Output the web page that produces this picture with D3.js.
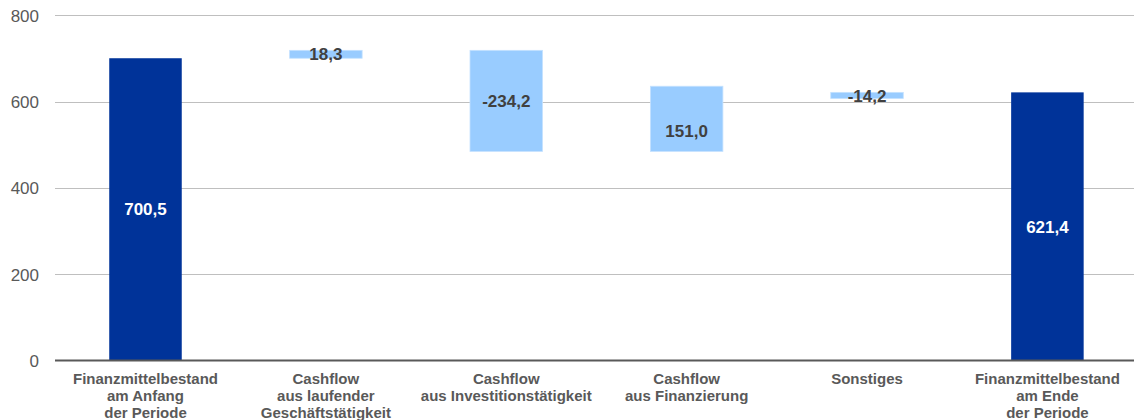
<!DOCTYPE html>
<html>
<head>
<meta charset="utf-8">
<script src="https://cdn.jsdelivr.net/npm/d3@7"></script>
<style>
  html, body { margin: 0; padding: 0; background: #fff; }
  svg { display: block; font-family: "Liberation Sans", Arial, sans-serif; }
</style>
</head>
<body>
<svg id="chart" width="1134" height="420"></svg>
<script>
// Kapitalflussrechnung: Überleitung des Finanzmittelbestands
const categories = [
  ["Finanzmittelbestand", "am Anfang", "der Periode"],
  ["Cashflow", "aus laufender", "Geschäftstätigkeit"],
  ["Cashflow", "aus Investitionstätigkeit"],
  ["Cashflow", "aus Finanzierung"],
  ["Sonstiges"],
  ["Finanzmittelbestand", "am Ende", "der Periode"]
];
// "total": stands on zero; "delta": floats on the running sum;
// "closing": hangs from the closing balance that follows it
const kinds = ["total", "delta", "delta", "delta", "closing", "total"];
const values = [700.5, 18.3, -234.2, 151.0, -14.2, 621.4];
const yTicks = [0, 200, 400, 600, 800];

let running = 0;
const bars = values.map((v, i) => {
  let lo, hi;
  if (kinds[i] === "total") {
    lo = 0; hi = v; running = v;
  } else if (kinds[i] === "closing") {
    const endIdx = kinds.indexOf("total", i);
    hi = values[endIdx]; lo = hi - Math.abs(v);
    running += v;
  } else {
    const next = running + v;
    lo = Math.min(running, next); hi = Math.max(running, next);
    running = next;
  }
  return { i, v, lo, hi, kind: kinds[i] };
});

const svg = d3.select("#chart");
const x = d3.scaleBand()
  .domain(d3.range(categories.length))
  .range([55.3, 1137.6])
  .paddingInner(0.598)
  .paddingOuter(0.299);
const y = d3.scaleLinear().domain([0, 800]).range([360.5, 15.3]);

// Gridlines
svg.append("g")
  .selectAll("line")
  .data(yTicks.filter(t => t > 0))
  .join("line")
  .attr("x1", 55).attr("x2", 1134)
  .attr("y1", d => Math.round(y(d)) + 0.5)
  .attr("y2", d => Math.round(y(d)) + 0.5)
  .attr("stroke", "#bfbfbf").attr("stroke-width", 1);

// Y axis tick labels
const yAxis = d3.axisLeft(y).tickValues(yTicks).tickSize(0).tickPadding(0);
const gy = svg.append("g").attr("transform", "translate(39,0)").call(yAxis);
gy.select(".domain").remove();
gy.selectAll("text")
  .attr("font-size", 17)
  .attr("font-family", "Liberation Sans, Arial, sans-serif")
  .attr("fill", "#595959")
  .attr("dy", "0.35em");

// Bars
svg.append("g")
  .selectAll("rect")
  .data(bars)
  .join("rect")
  .attr("x", d => x(d.i))
  .attr("width", x.bandwidth())
  .attr("y", d => y(d.hi))
  .attr("height", d => y(d.lo) - y(d.hi))
  .attr("fill", d => d.kind === "total" ? "#003399" : "#99ccff")
  .attr("stroke", d => d.kind === "total" ? "none" : "#c4e1ff")
  .attr("stroke-width", 0.8);

// Baseline
svg.append("line")
  .attr("x1", 55).attr("x2", 1134)
  .attr("y1", y(0)).attr("y2", y(0))
  .attr("stroke", "#595959").attr("stroke-width", 2);

// Value labels (German decimal comma, plain hyphen as minus)
const fmt = d3.formatLocale({ decimal: ",", thousands: ".", grouping: [3], currency: ["", " €"], minus: "-" }).format(".1f");
const labelNudge = { 3: 12 };
svg.append("g")
  .selectAll("text")
  .data(bars)
  .join("text")
  .attr("x", d => x(d.i) + x.bandwidth() / 2)
  .attr("y", d => y((d.lo + d.hi) / 2) + (labelNudge[d.i] || 0))
  .attr("dy", "0.36em")
  .attr("text-anchor", "middle")
  .attr("font-size", 17)
  .attr("font-weight", "bold")
  .attr("fill", d => d.kind === "total" ? "#ffffff" : "#404040")
  .text(d => fmt(d.v));

// Category labels
const cat = svg.append("g")
  .selectAll("text")
  .data(categories)
  .join("text")
  .attr("text-anchor", "middle")
  .attr("font-size", 15)
  .attr("font-weight", "bold")
  .attr("fill", "#595959");
cat.selectAll("tspan")
  .data((lines, i) => lines.map(l => ({ l, i })))
  .join("tspan")
  .attr("x", d => x(d.i) + x.bandwidth() / 2)
  .attr("y", (d, j) => 383.5 + j * 17.4)
  .text(d => d.l);
</script>
</body>
</html>
